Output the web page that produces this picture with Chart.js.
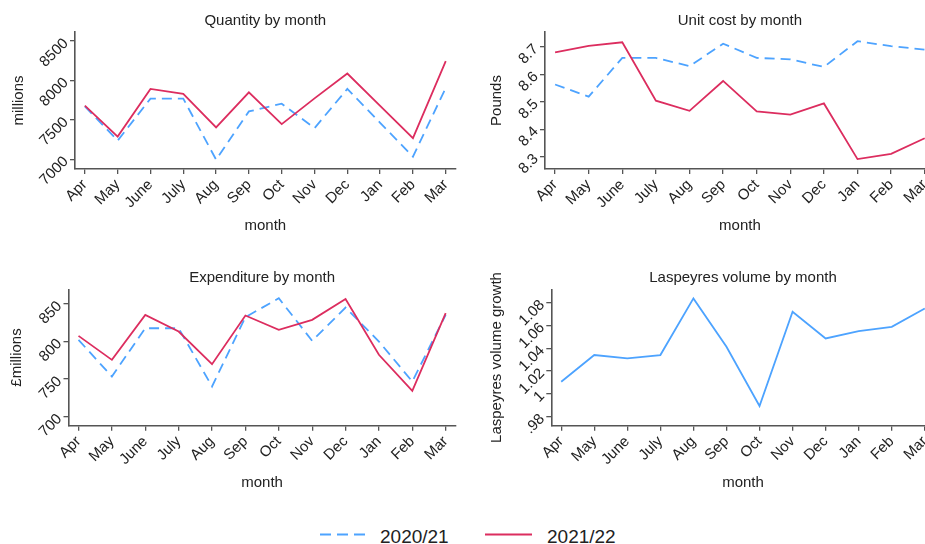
<!DOCTYPE html>
<html>
<head>
<meta charset="utf-8">
<title>Monthly quantity, unit cost, expenditure and volume growth</title>
<script src="https://cdn.jsdelivr.net/npm/chart.js@4.4.1/dist/chart.umd.min.js"></script>
<style>
  html, body { margin: 0; padding: 0; background: #ffffff; }
  #page {
    position: relative; width: 925px; height: 544px; overflow: hidden;
    font-family: "Liberation Sans", Arial, sans-serif; color: #222;
  }
  #page canvas { position: absolute; }
  .key-line { position: absolute; }
  .key-text { position: absolute; font-size: 19px; line-height: 19px; white-space: nowrap; }
</style>
</head>
<body>
<div id="page">
  <canvas id="qty"  width="470" height="250" style="left:0px;top:0px"></canvas>
  <canvas id="cost" width="490" height="250" style="left:460px;top:0px"></canvas>
  <canvas id="exp"  width="470" height="260" style="left:0px;top:250px"></canvas>
  <canvas id="vol"  width="490" height="260" style="left:460px;top:250px"></canvas>

  <svg class="key-line" style="left:320px;top:532px" width="46" height="5">
    <line x1="0" y1="2.5" x2="46" y2="2.5" stroke="#4da3ff" stroke-width="2" stroke-dasharray="11 6"/>
  </svg>
  <div class="key-text" id="key1" style="left:380px;top:526.5px"></div>
  <svg class="key-line" style="left:485px;top:532px" width="47" height="5">
    <line x1="0" y1="2.5" x2="47" y2="2.5" stroke="#dc2d5f" stroke-width="2"/>
  </svg>
  <div class="key-text" id="key2" style="left:547px;top:526.5px"></div>
</div>

<script>
// ---- data ----------------------------------------------------------------
const months = ['Apr', 'May', 'June', 'July', 'Aug', 'Sep', 'Oct', 'Nov', 'Dec', 'Jan', 'Feb', 'Mar'];
const seriesNames = ['2020/21', '2021/22'];

// Quantity (millions)
const quantity2020 = [7671, 7237, 7769, 7769, 6995, 7607, 7705, 7395, 7893, 7463, 7033, 7906];
const quantity2021 = [7680, 7288, 7893, 7829, 7403, 7849, 7446, 7772, 8088, 7677, 7268, 8245];
const quantityTicks = [7000, 7500, 8000, 8500];

// Unit cost (pounds)
const unitCost2020 = [8.563, 8.519, 8.660, 8.660, 8.630, 8.712, 8.660, 8.655, 8.627, 8.721, 8.703, 8.690];
const unitCost2021 = [8.680, 8.704, 8.717, 8.504, 8.467, 8.576, 8.465, 8.453, 8.494, 8.291, 8.310, 8.367];
const unitCostTicks = [8.3, 8.4, 8.5, 8.6, 8.7];

// Expenditure (£ millions)
const expenditure2020 = [802.2, 753.5, 817.7, 817.7, 740.2, 832.4, 857.6, 800.9, 845.2, 800.0, 746.8, 835.5];
const expenditure2021 = [807.5, 775.6, 835.5, 813.3, 769.9, 834.6, 815.5, 828.8, 856.7, 782.3, 734.4, 837.7];
const expenditureTicks = [700, 750, 800, 850];

// Laspeyres volume growth
const laspeyres = [1.0107, 1.0341, 1.0312, 1.0341, 1.0838, 1.0414, 0.9894, 1.0721, 1.0487, 1.0551, 1.0589, 1.0750];
const laspeyresTicks = [0.98, 1, 1.02, 1.04, 1.06, 1.08];
const laspeyresTickLabels = ['.98', '1', '1.02', '1.04', '1.06', '1.08'];

// ---- styling ---------------------------------------------------------------
const BLUE = '#4da3ff';
const RED = '#dc2d5f';
const AXIS = '#555555';
const INK = '#222222';
const FONT = '"Liberation Sans", Arial, sans-serif';
const TITLE_SIZE = 15, TITLE_LH = 18;
const TICK_SIZE = 15;

Chart.defaults.font.family = FONT;
Chart.defaults.color = INK;

document.getElementById('key1').textContent = seriesNames[0];
document.getElementById('key2').textContent = seriesNames[1];

function points(values) {
  return values.map((v, i) => ({ x: i, y: v }));
}

function blueDashed(values) {
  return { label: seriesNames[0], data: points(values), borderColor: BLUE, borderWidth: 1.8,
           borderDash: [10, 6], pointRadius: 0, tension: 0, order: 1 };
}
function redSolid(values) {
  return { label: seriesNames[1], data: points(values), borderColor: RED, borderWidth: 1.8,
           pointRadius: 0, tension: 0, order: 0 };
}

// One small-multiple panel. `box` gives the plot-area edges in canvas pixels,
// plus the centre lines of the title and the two axis titles.
function panel(id, title, yTitle, datasets, yMin, yMax, yTicks, yLabels, box) {
  const canvas = document.getElementById(id);
  const W = canvas.width, H = canvas.height;
  const titleTop = box.titleY - TITLE_LH / 2;
  const xBottom = box.xTitleY + TITLE_LH / 2;

  return new Chart(canvas, {
    type: 'line',
    data: { datasets },
    options: {
      responsive: false,
      animation: false,
      devicePixelRatio: 1,
      layout: { padding: { left: 0, top: 0, right: W - box.right, bottom: H - xBottom } },
      plugins: {
        legend: { display: false },
        tooltip: { enabled: false },
        title: {
          display: true, text: title, fullSize: false, color: INK,
          font: { size: TITLE_SIZE, weight: 'normal', lineHeight: TITLE_LH / TITLE_SIZE },
          padding: { top: titleTop, bottom: box.top - titleTop - TITLE_LH }
        }
      },
      scales: {
        x: {
          type: 'linear', min: -0.3, max: 11.3,
          afterBuildTicks: s => { s.ticks = months.map((m, i) => ({ value: i })); },
          afterFit: s => { s.height = xBottom - box.bottom; },
          grid: { drawOnChartArea: false, drawTicks: true, tickLength: 5, color: AXIS, lineWidth: 1.3 },
          border: { display: true, color: AXIS, width: 1.6 },
          ticks: { autoSkip: false, minRotation: 45, maxRotation: 45, padding: 2,
                   font: { size: TICK_SIZE }, color: INK, callback: v => months[v] },
          title: { display: true, text: 'month', color: INK, padding: 0,
                   font: { size: TITLE_SIZE, lineHeight: TITLE_LH / TITLE_SIZE } }
        },
        y: {
          type: 'linear', min: yMin, max: yMax,
          afterBuildTicks: s => { s.ticks = yTicks.map(v => ({ value: v })); },
          afterFit: s => { s.width = box.left; },
          grid: { drawOnChartArea: false, drawTicks: true, tickLength: 5, color: AXIS, lineWidth: 1.3 },
          border: { display: true, color: AXIS, width: 1.6 },
          ticks: { autoSkip: false, minRotation: 45, maxRotation: 45, padding: 4,
                   font: { size: TICK_SIZE }, color: INK,
                   callback: (v, i) => yLabels[i] },
          title: { display: true, text: yTitle, color: INK,
                   padding: { top: box.yTitleX - TITLE_LH / 2, bottom: 0 },
                   font: { size: TITLE_SIZE, lineHeight: TITLE_LH / TITLE_SIZE } }
        }
      }
    }
  });
}

panel('qty', 'Quantity by month', 'millions',
  [redSolid(quantity2021), blueDashed(quantity2020)],
  6876, 8615, quantityTicks, quantityTicks.map(String),
  { left: 75, top: 32, right: 455.6, bottom: 169, titleY: 20.8, xTitleY: 225.7, yTitleX: 18.5 });

panel('cost', 'Unit cost by month', 'Pounds',
  [redSolid(unitCost2021), blueDashed(unitCost2020)],
  8.255, 8.7545, unitCostTicks, unitCostTicks.map(v => v.toFixed(1)),
  { left: 85, top: 32, right: 474.8, bottom: 169, titleY: 20.8, xTitleY: 225.5, yTitleX: 37.3 });

panel('exp', 'Expenditure by month', '£millions',
  [redSolid(expenditure2021), blueDashed(expenditure2020)],
  688, 869.5, expenditureTicks, expenditureTicks.map(String),
  { left: 68.5, top: 39.3, right: 455.7, bottom: 175.7, titleY: 27.5, xTitleY: 233.3, yTitleX: 17 });

panel('vol', 'Laspeyres volume by month', 'Laspeyres volume growth',
  [{ label: 'Laspeyres', data: points(laspeyres), borderColor: BLUE, borderWidth: 1.8,
     pointRadius: 0, tension: 0 }],
  0.9721, 1.0918, laspeyresTicks, laspeyresTickLabels,
  { left: 91.3, top: 39.3, right: 474.7, bottom: 175.7, titleY: 28.3, xTitleY: 233.3, yTitleX: 37.3 });
</script>
</body>
</html>
